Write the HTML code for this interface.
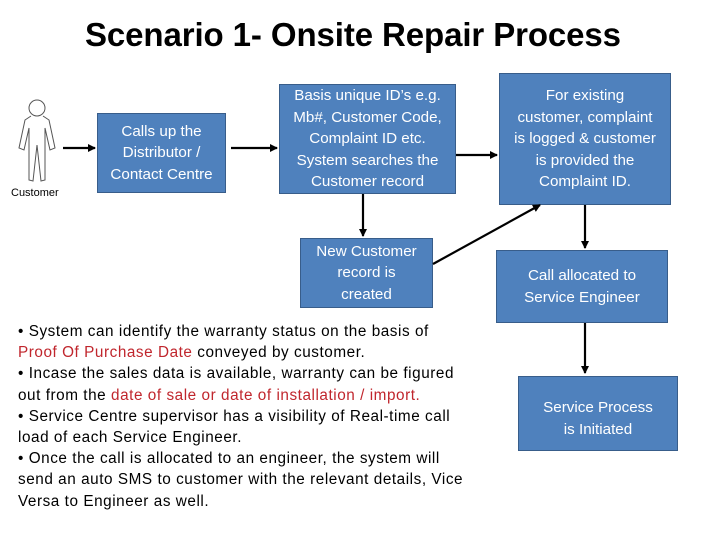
<!DOCTYPE html>
<html><head><style>
body{margin:0;width:728px;height:546px;background:#fff;position:relative;overflow:hidden;font-family:"Liberation Sans",sans-serif}
.b{position:absolute;background:#4f81bd;border:1.5px solid #385d8a;box-sizing:border-box;color:#fff;font-size:15.2px;line-height:21.5px;text-align:center;display:flex;align-items:center;justify-content:center;white-space:nowrap}
.t{position:absolute;left:85px;top:16px;font-size:33px;font-weight:bold;color:#000;letter-spacing:-0.1px}
.n{position:absolute;left:18px;top:321px;font-size:15.3px;letter-spacing:0.55px;line-height:21.2px;color:#000;width:520px;white-space:nowrap}
.r{color:#c0262d}
</style></head><body>
<div class="t">Scenario 1- Onsite Repair Process</div>
<div class="b" style="left:97px;top:113px;width:129px;height:80px">Calls up the<br>Distributor /<br>Contact Centre</div>
<div class="b" style="left:279px;top:84px;width:177px;height:110px">Basis unique ID’s e.g.<br>Mb#, Customer Code,<br>Complaint ID etc.<br>System searches the<br>Customer record</div>
<div class="b" style="left:499px;top:73px;width:172px;height:132px">For existing<br>customer, complaint<br>is logged &amp; customer<br>is provided the<br>Complaint ID.</div>
<div class="b" style="left:300px;top:238px;width:133px;height:70px">New Customer<br>record is<br>created</div>
<div class="b" style="left:496px;top:250px;width:172px;height:73px">Call allocated to<br>Service Engineer</div>
<div class="b" style="left:518px;top:376px;width:160px;height:75px;align-items:flex-start;padding-top:20px">Service Process<br>is Initiated</div>
<div style="position:absolute;left:11px;top:187px;font-size:11px">Customer</div>
<svg width="728" height="546" style="position:absolute;left:0;top:0">
<defs><marker id="a" markerWidth="8" markerHeight="8" refX="7" refY="4" orient="auto" markerUnits="userSpaceOnUse"><path d="M0,0L8,4L0,8z" fill="#000"/></marker></defs>
<g fill="none" stroke="#555" stroke-width="1">
<circle cx="37" cy="108" r="8"/>
<path d="M31,116 L25,120 L19,148 L24,150 L29,128 L29,180 L33,181 L37,145 L41,181 L45,180 L45,128 L50,150 L55,148 L49,120 L43,116"/>
</g>
<g stroke="#000" stroke-width="2.2" marker-end="url(#a)">
<line x1="63" y1="148" x2="95" y2="148"/>
<line x1="231" y1="148" x2="277" y2="148"/>
<line x1="456" y1="155" x2="497" y2="155"/>
<line x1="363" y1="194" x2="363" y2="236"/>
<line x1="433" y1="264" x2="540" y2="205"/>
<line x1="585" y1="205" x2="585" y2="248"/>
<line x1="585" y1="323" x2="585" y2="373"/>
</g>
</svg>
<div class="n">• System can identify the warranty status on the basis of<br><span class="r">Proof Of Purchase Date</span> conveyed by customer.<br>• Incase the sales data is available, warranty can be figured<br>out from the <span class="r">date of sale or date of installation / import.</span><br>• Service Centre supervisor has a visibility of Real-time call<br>load of each Service Engineer.<br>• Once the call is allocated to an engineer, the system will<br>send an auto SMS to customer with the relevant details, Vice<br>Versa to Engineer as well.</div>
</body></html>
